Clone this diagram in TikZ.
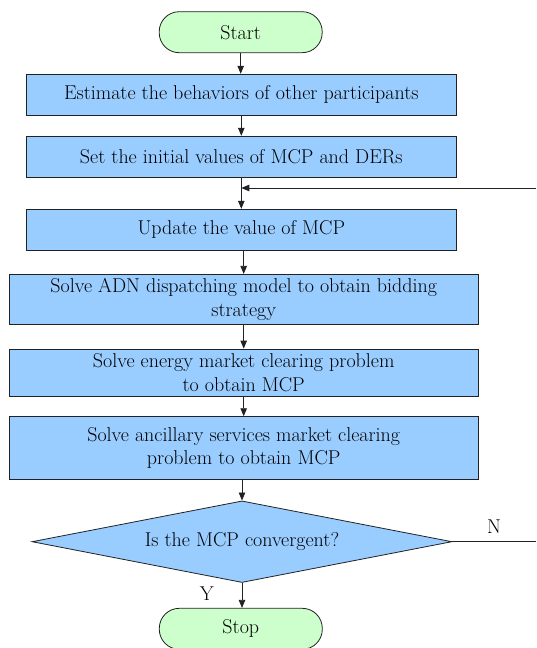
\documentclass[tikz,border=0pt]{standalone}
\usetikzlibrary{arrows.meta,shapes.geometric,calc}
\definecolor{boxblue}{HTML}{99CCFF}
\definecolor{termgreen}{HTML}{CCFFCC}
\definecolor{edgegray}{HTML}{222222}
\begin{document}
\begin{tikzpicture}[x=1pt,y=-1pt,
  txt/.style={font=\rmfamily\fontsize{20}{23.5}\selectfont},
  box/.style={draw=edgegray, line width=0.8pt, fill=boxblue, minimum height=41pt,
    align=center, inner sep=0pt, txt},
  term/.style={draw=edgegray, line width=0.8pt, fill=termgreen, rounded corners=20pt,
    minimum width=163pt, minimum height=41pt, inner sep=0pt, txt},
  arr/.style={-{Triangle[length=8pt,width=6.5pt]}, line width=0.8pt, draw=edgegray},
  ln/.style={line width=0.8pt, draw=edgegray}]
\useasboundingbox (0,0) rectangle (536,648);
\node[term] (start) at (240.7,32.2) {Start};
\node[box, minimum width=429.3pt] (b1) at (241.3,94.7) {Estimate the behaviors of other participants};
\node[box, minimum width=429.3pt] (b2) at (241.3,156.7) {Set the initial values of MCP and DERs};
\node[box, minimum width=429.3pt] (b3) at (241.3,229.7) {Update the value of MCP};
\node[box, minimum width=469.3pt, minimum height=50pt] (b4) at (243.7,299.3) {Solve ADN dispatching model to obtain bidding\\strategy};
\node[box, minimum width=469.3pt, minimum height=47pt] (b5) at (243.7,372.5) {Solve energy market clearing problem\\to obtain MCP};
\node[box, minimum width=469.3pt, minimum height=62.7pt] (b6) at (243.7,448) {Solve ancillary services market clearing\\problem to obtain MCP};
\node[diamond, draw=edgegray, line width=0.8pt, fill=boxblue, minimum width=420pt, minimum height=81.6pt,
  inner sep=0pt, aspect=5.15, txt] (dec) at (242,541.7) {Is the MCP convergent?};
\node[term] (stop) at (240.8,628.8) {Stop};
\coordinate (j) at (241.3,188);
\coordinate (fb) at (536,188);
\coordinate (nend) at (536,541.7);
\draw[arr] (start.south) -- (start.south |- b1.north);
\draw[arr] (b1.south) -- (b2.north);
\draw[arr] (b2.south) -- (b3.north);
\draw[arr] (fb) -- (j);
\draw[arr] (b4.north |- b3.south) -- (b4.north);
\draw[arr] (b4.south) -- (b5.north);
\draw[arr] (b5.south) -- (b6.north);
\draw[arr] (dec.north |- b6.south) -- (dec.north);
\draw[arr] (dec.south) -- (dec.south |- stop.north);
\draw[ln] (dec.east) -- (nend);
\node[txt] (nlab) at (494,527) {N};
\node[txt] (ylab) at (206.7,594) {Y};
\end{tikzpicture}
\end{document}
